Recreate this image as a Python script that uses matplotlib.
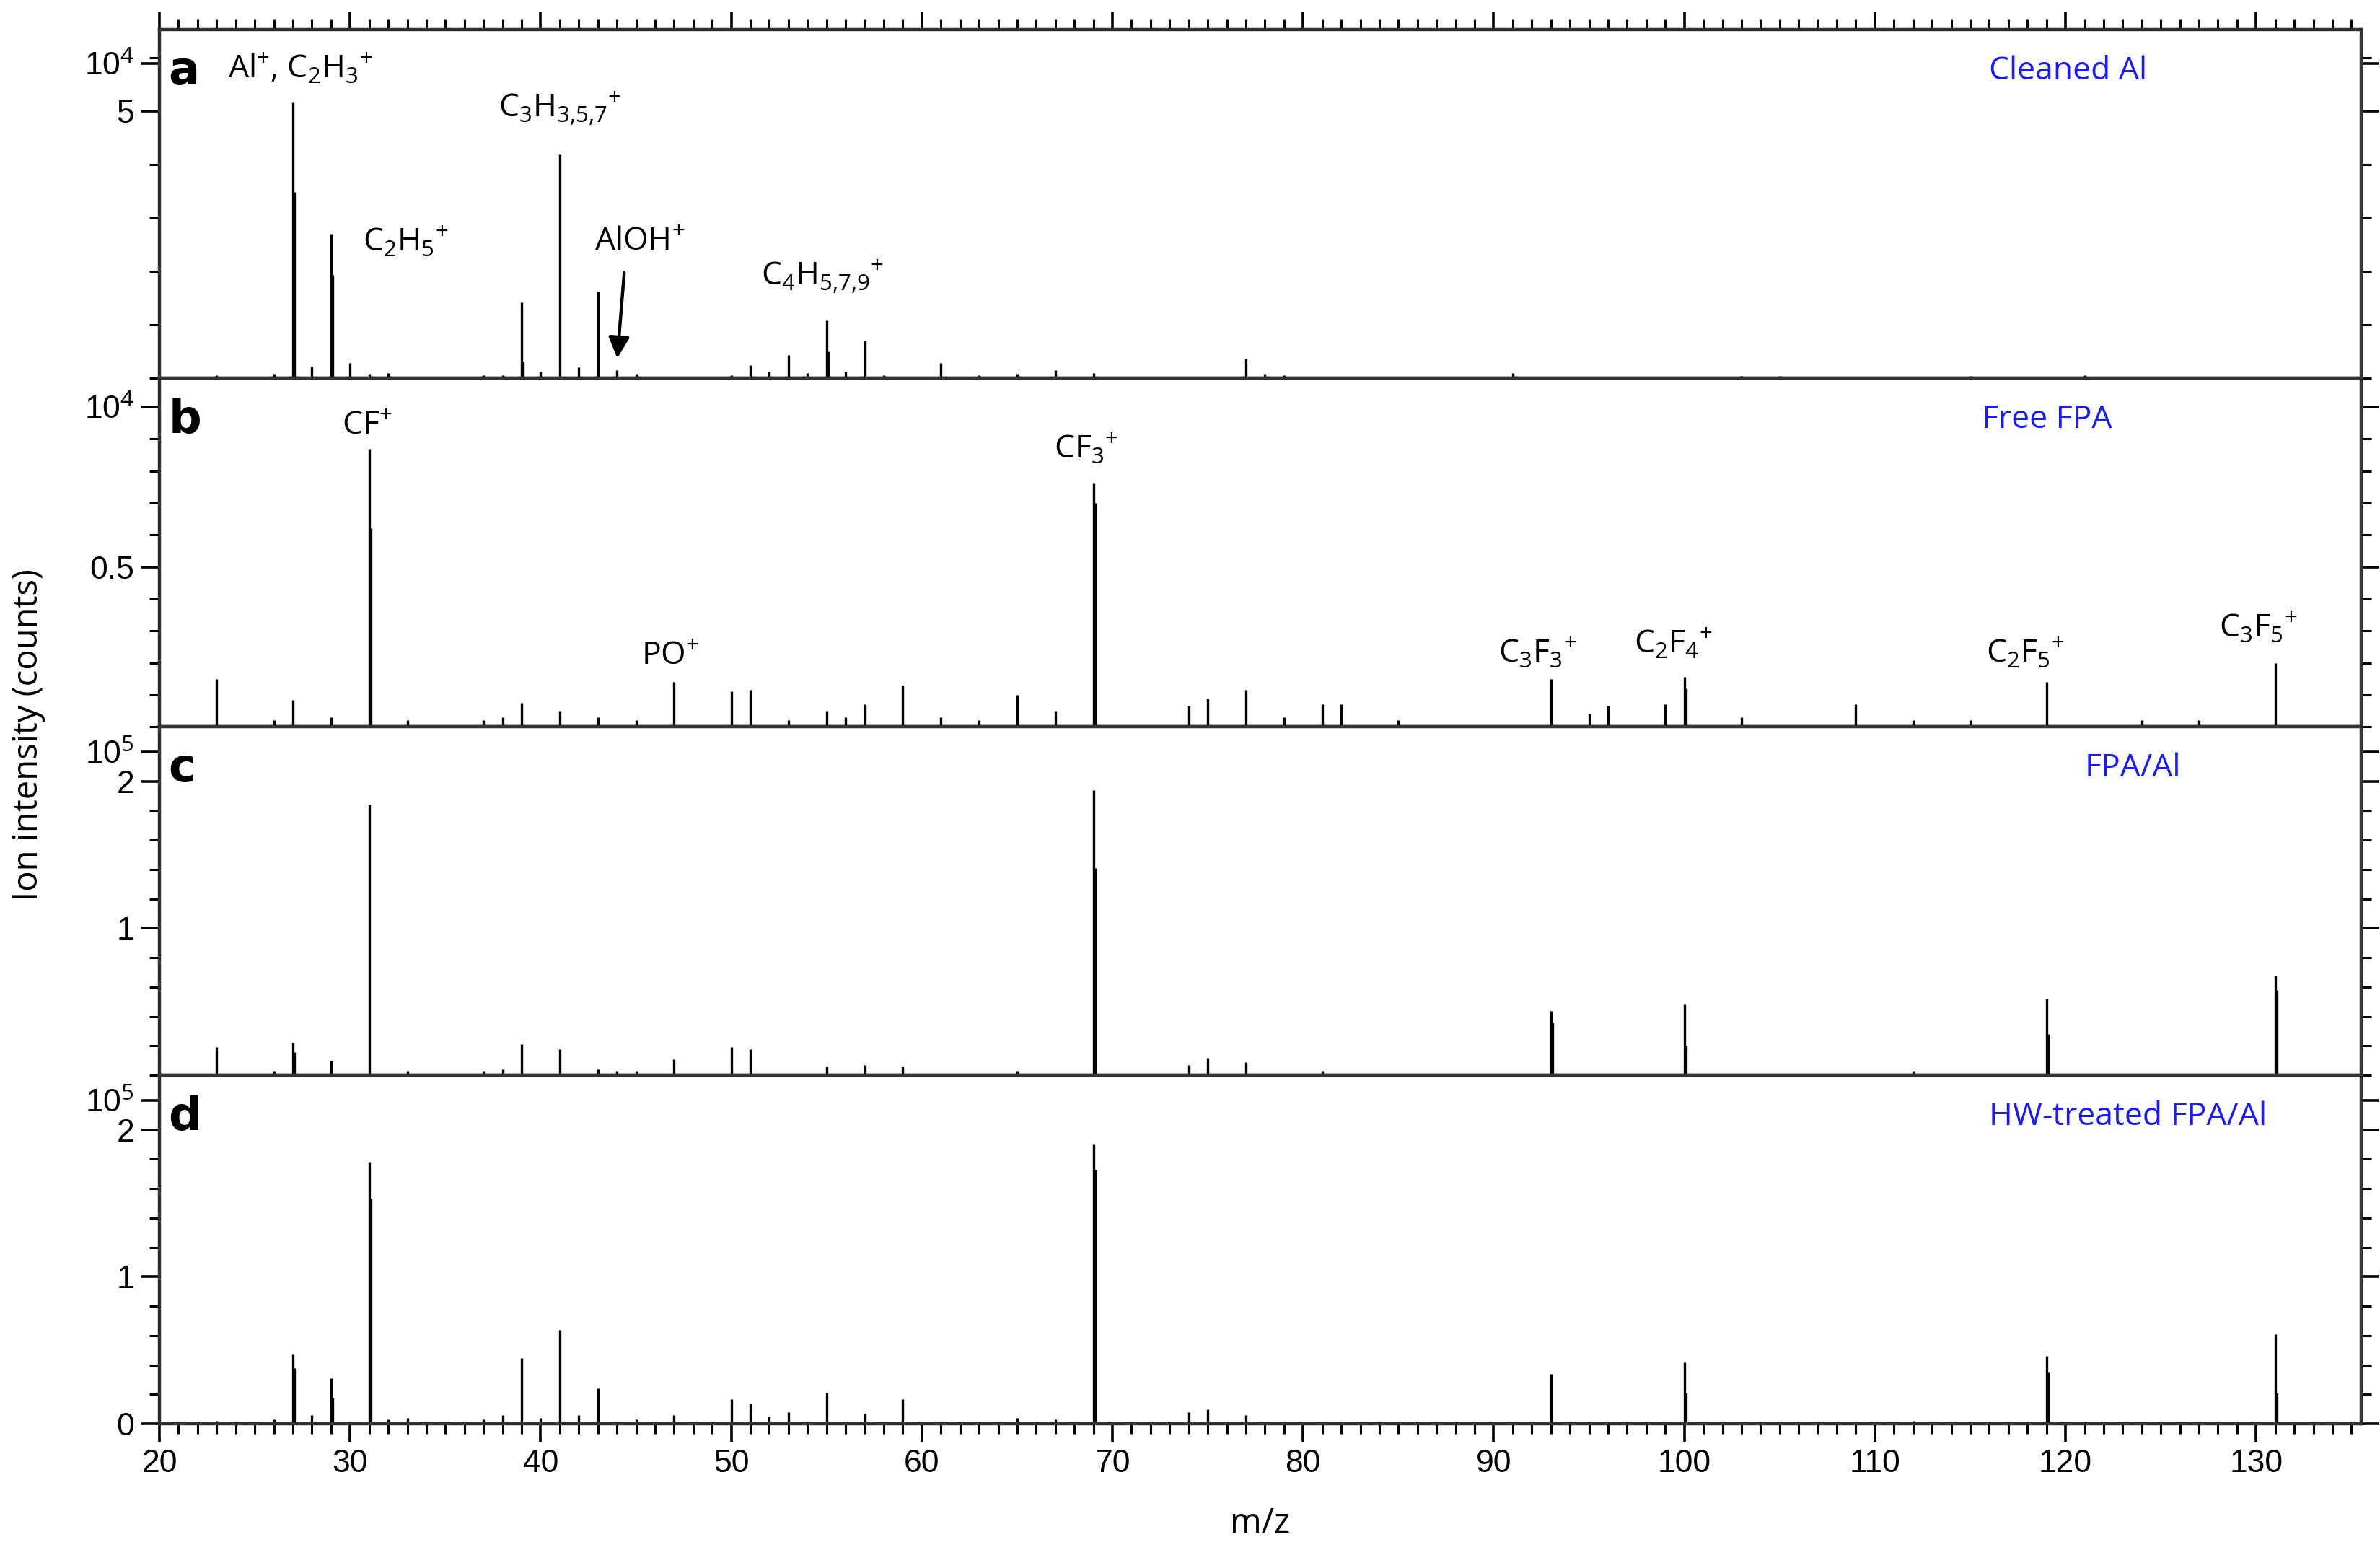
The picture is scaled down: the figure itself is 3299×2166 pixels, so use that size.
import numpy as np
import matplotlib
matplotlib.use('Agg')
from matplotlib import pyplot as plt
from matplotlib.ticker import MultipleLocator

plt.rcParams['font.family'] = ['Liberation Sans', 'DejaVu Sans']
plt.rcParams['mathtext.fontset'] = 'custom'
plt.rcParams['mathtext.rm'] = 'Open Sans'
plt.rcParams['mathtext.it'] = 'Open Sans'

# peak positions (m/z) and heights; second list = shoulder line next to main one
mz_a = [23, 26, 27, 28, 29, 30, 31, 32, 37, 38, 39, 40, 41, 42, 43, 44, 45, 50, 51, 52, 53, 54, 55, 56, 57, 58,
        61, 63, 65, 67, 69, 77, 78, 79, 91, 103, 105, 115, 121]
h_a = [0.05, 0.08, 5.17, 0.22, 2.70, 0.28, 0.08, 0.10, 0.05, 0.06, 1.42, 0.12, 4.20, 0.20, 1.62, 0.15, 0.08, 0.06,
       0.24, 0.12, 0.43, 0.10, 1.08, 0.12, 0.71, 0.06, 0.28, 0.06, 0.08, 0.15, 0.10, 0.37, 0.08, 0.06, 0.10,
       0.04, 0.04, 0.04, 0.05]
mz_a2 = [27, 29, 39, 55]
h_a2 = [3.49, 1.93, 0.32, 0.50]

mz_b = [23, 26, 27, 29, 31, 33, 37, 38, 39, 41, 43, 45, 47, 50, 51, 53, 55, 56, 57, 59, 61, 63, 65, 67, 69, 74,
        75, 77, 79, 81, 82, 85, 93, 95, 96, 99, 100, 103, 109, 112, 115, 119, 124, 127, 131]
h_b = [0.15, 0.02, 0.083, 0.03, 0.87, 0.02, 0.02, 0.03, 0.075, 0.05, 0.03, 0.02, 0.14, 0.11, 0.115, 0.02, 0.05,
       0.03, 0.07, 0.13, 0.03, 0.02, 0.10, 0.05, 0.76, 0.065, 0.088, 0.115, 0.03, 0.07, 0.07, 0.02, 0.15, 0.04,
       0.065, 0.07, 0.157, 0.03, 0.07, 0.02, 0.02, 0.14, 0.02, 0.02, 0.20]
mz_b2 = [31, 69, 100]
h_b2 = [0.62, 0.70, 0.12]

mz_c = [23, 26, 27, 29, 31, 33, 37, 38, 39, 41, 43, 44, 45, 47, 50, 51, 55, 57, 59, 65, 69, 74, 75, 77, 81, 93,
        100, 112, 119, 131]
h_c = [0.19, 0.03, 0.22, 0.10, 1.84, 0.03, 0.03, 0.04, 0.21, 0.18, 0.04, 0.03, 0.03, 0.11, 0.19, 0.18, 0.06,
       0.07, 0.06, 0.03, 1.94, 0.07, 0.12, 0.09, 0.03, 0.44, 0.48, 0.03, 0.52, 0.68]
mz_c2 = [27, 69, 93, 100, 119, 131]
h_c2 = [0.16, 1.41, 0.36, 0.20, 0.28, 0.58]

mz_d = [23, 26, 27, 28, 29, 31, 32, 33, 37, 38, 39, 40, 41, 42, 43, 45, 47, 50, 51, 52, 53, 55, 57, 59, 65, 67,
        69, 74, 75, 77, 93, 100, 112, 119, 131]
h_d = [0.02, 0.03, 0.47, 0.06, 0.31, 1.78, 0.03, 0.04, 0.03, 0.06, 0.45, 0.04, 0.64, 0.06, 0.24, 0.03, 0.06, 0.17,
       0.14, 0.05, 0.08, 0.21, 0.07, 0.17, 0.04, 0.03, 1.90, 0.08, 0.10, 0.06, 0.34, 0.42, 0.02, 0.46, 0.61]
mz_d2 = [27, 29, 31, 69, 100, 119, 131]
h_d2 = [0.38, 0.18, 1.53, 1.73, 0.21, 0.35, 0.21]

panels = [
    dict(mz=mz_a, h=h_a, mz2=mz_a2, h2=h_a2, top=6.53, minor=1, ticks=[5, 5.9], labels=['5', '10$^4$'],
         letter='a', name='Cleaned Al', name_x=116),
    dict(mz=mz_b, h=h_b, mz2=mz_b2, h2=h_b2, top=1.09, minor=0.1, ticks=[0.5, 1.0], labels=['0.5', '10$^4$'],
         letter='b', name='Free FPA', name_x=115.6),
    dict(mz=mz_c, h=h_c, mz2=mz_c2, h2=h_c2, top=2.37, minor=0.2, ticks=[1, 2, 2.2], labels=['1', '2', '10$^5$'],
         letter='c', name='FPA/Al', name_x=121),
    dict(mz=mz_d, h=h_d, mz2=mz_d2, h2=h_d2, top=2.37, minor=0.2, ticks=[0, 1, 2, 2.2],
         labels=['0', '1', '2', '10$^5$'], letter='d', name='HW-treated FPA/Al', name_x=116),
]

fig, axes = plt.subplots(4, 1, sharex=True, figsize=(16.495, 10.83), dpi=200)
fig.subplots_adjust(left=0.067, right=0.992, top=0.981, bottom=0.089, hspace=0)

for i, (ax, p) in enumerate(zip(axes, panels)):
    ax.vlines(p['mz'], 0, p['h'], color='black', lw=1.2)
    ax.vlines(np.array(p['mz2']) + 0.08, 0, p['h2'], color='black', lw=1.2)
    ax.set_xlim(20, 135.5)
    ax.set_ylim(0, p['top'])
    ax.set_yticks(p['ticks'])
    ax.set_yticklabels(p['labels'])
    ax.yaxis.set_minor_locator(MultipleLocator(p['minor']))
    ax.xaxis.set_major_locator(MultipleLocator(10))
    ax.xaxis.set_minor_locator(MultipleLocator(1))
    ax.tick_params(axis='both', which='major', labelsize=16, width=1.3, length=9, direction='out',
                   right=True, top=(i == 0))
    ax.tick_params(axis='both', which='minor', width=1.1, length=5, direction='out', right=True, top=(i == 0))
    for s in ax.spines.values():
        s.set_linewidth(1.6)
        s.set_color('#333333')
    ax.text(0.004, 0.88, p['letter'], transform=ax.transAxes, fontsize=23, fontweight='bold',
            fontfamily='DejaVu Sans', va='center', ha='left')
    ax.text(p['name_x'], p['top'] * 0.88, p['name'], color='#1a1aff', fontsize=16, fontfamily='Open Sans',
            va='center', ha='left')

lab = dict(fontsize=16, fontfamily='Open Sans', ha='center', va='center')
axa, axb = axes[0], axes[1]
axa.text(27.4, 5.8, r'Al$^{+}$, C$_2$H$_3$$^{+}$', **lab)
axa.text(41.0, 5.05, r'C$_3$H$_{3{,}5{,}7}$$^{+}$', **lab)
axa.text(32.9, 2.55, r'C$_2$H$_5$$^{+}$', **lab)
axa.text(45.2, 2.55, r'AlOH$^{+}$', **lab)
axa.text(54.8, 1.9, r'C$_4$H$_{5{,}7{,}9}$$^{+}$', **lab)
axa.annotate('', xy=(44, 0.3), xytext=(44.4, 2.05),
             arrowprops=dict(arrowstyle='-|>', color='black', lw=1.6, mutation_scale=22))
axb.text(30.9, 0.94, r'CF$^{+}$', **lab)
axb.text(68.6, 0.87, r'CF$_3$$^{+}$', **lab)
axb.text(46.8, 0.22, r'PO$^{+}$', **lab)
axb.text(92.3, 0.23, r'C$_3$F$_3$$^{+}$', **lab)
axb.text(99.4, 0.26, r'C$_2$F$_4$$^{+}$', **lab)
axb.text(117.9, 0.23, r'C$_2$F$_5$$^{+}$', **lab)
axb.text(130.1, 0.31, r'C$_3$F$_5$$^{+}$', **lab)

axes[-1].set_xlabel('m/z', fontsize=17, fontfamily='Open Sans', labelpad=14)
fig.text(0.012, 0.53, 'Ion intensity (counts)', rotation=90, fontsize=17, fontfamily='Open Sans',
         ha='center', va='center')

plt.savefig('out.png', dpi=200)
